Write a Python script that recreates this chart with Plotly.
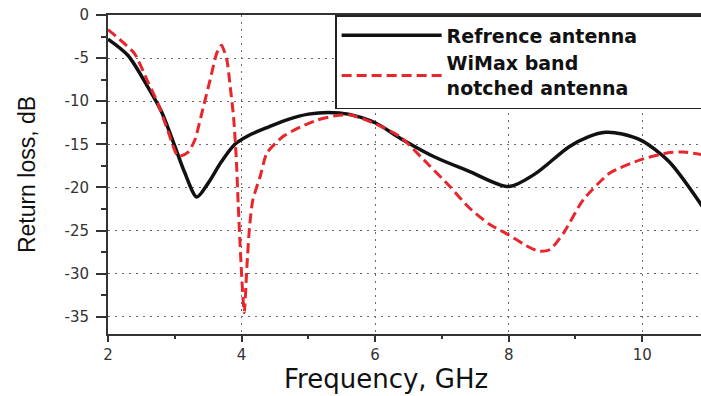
import plotly.graph_objects as go

# Reference antenna
freq_ref = [2.0, 2.3, 2.6, 2.8, 3.0, 3.15, 3.33, 3.5, 3.7, 3.9, 4.1, 4.4, 4.7, 5.0,
            5.3, 5.6, 6.0, 6.4, 6.9, 7.4, 8.0, 8.4, 8.9, 9.2, 9.45, 9.7, 10.0, 10.4, 10.9]
rl_ref = [-2.8, -4.7, -8.4, -11.2, -15.2, -18.3, -21.1, -19.5, -17.0, -15.0, -14.0, -13.0,
          -12.1, -11.5, -11.3, -11.5, -12.5, -14.4, -16.5, -18.1, -19.9, -18.4, -15.3,
          -14.1, -13.6, -13.8, -14.6, -17.0, -22.2]

# WiMax band notched antenna
freq_notch = [2.0, 2.2, 2.4, 2.6, 2.75, 2.9, 3.05, 3.2, 3.3, 3.43, 3.53, 3.63, 3.7, 3.78,
              3.83, 3.88, 3.92, 3.95, 4.0, 4.04, 4.08, 4.12, 4.17, 4.28, 4.38, 4.62, 4.88,
              5.13, 5.4, 5.63, 6.0, 6.37, 6.78, 7.12, 7.4, 7.7, 8.0, 8.25, 8.45, 8.62, 8.82,
              9.12, 9.52, 9.97, 10.37, 10.62, 10.9]
rl_notch = [-1.7, -3.0, -4.5, -7.8, -10.3, -13.5, -16.4, -15.9, -14.5, -10.6, -7.5, -4.4,
            -3.5, -5.2, -8.3, -11.8, -16.5, -22.0, -30.0, -34.5, -29.2, -24.5, -21.4, -18.7,
            -16.0, -14.1, -13.0, -12.2, -11.7, -11.6, -12.6, -14.1, -17.2, -19.9, -22.3,
            -24.2, -25.5, -26.7, -27.4, -27.2, -25.3, -21.4, -18.3, -16.8, -16.0, -15.9, -16.2]

x_ticks = [2, 4, 6, 8, 10]
x_ticktext = ["2", "4", "6", "8", "10"]
y_ticks = [0, -5, -10, -15, -20, -25, -30, -35]
y_ticktext = ["0", "-5", "-10", "-15", "-20", "-25", "-30", "-35"]

fig = go.Figure()
fig.add_trace(go.Scatter(
    x=freq_ref, y=rl_ref, mode="lines",
    name="Refrence antenna" + "\u00a0" * 9,
    line=dict(color="#111111", width=3.5, shape="spline", smoothing=0.8),
))
fig.add_trace(go.Scatter(
    x=freq_notch, y=rl_notch, mode="lines", name="WiMax band<br>notched antenna",
    line=dict(color="#e8262b", width=3, dash="10px,5px", shape="spline", smoothing=0.6),
))

tick_font = dict(family="DejaVu Sans", size=15, color="#333333")
grid_color = "#6a6a6a"
fig.update_layout(
    width=701, height=396,
    margin=dict(l=108, r=0, t=15, b=62, autoexpand=False),
    paper_bgcolor="white", plot_bgcolor="white",
    showlegend=True,
    legend=dict(
        x=0.383, xanchor="left", y=1, yanchor="top",
        bgcolor="white", bordercolor="#222222", borderwidth=1.5,
        font=dict(family="DejaVu Sans", size=19, color="#111111", weight="bold"),
        itemwidth=100, tracegroupgap=0,
    ),
    xaxis=dict(
        range=[2, 10.88], tickmode="array", tickvals=x_ticks, ticktext=x_ticktext,
        ticks="outside", ticklen=6, tickwidth=1.5, tickcolor="#333333",
        showline=True, linecolor="#333333", linewidth=2, mirror=True,
        showgrid=True, gridcolor=grid_color, gridwidth=1, griddash="2px,5px",
        zeroline=False, tickfont=tick_font,
        minor=dict(tickmode="linear", tick0=2, dtick=1, ticks="outside", ticklen=3,
                   tickcolor="#333333", showgrid=False),
    ),
    yaxis=dict(
        range=[-37, 0], tickmode="array", tickvals=y_ticks, ticktext=y_ticktext,
        ticks="outside", ticklen=10, tickwidth=1.5, tickcolor="#333333",
        showline=True, linecolor="#333333", linewidth=2,
        showgrid=True, gridcolor=grid_color, gridwidth=1, griddash="2px,5px",
        zeroline=False, tickfont=tick_font, ticklabelstandoff=4,
        minor=dict(tickmode="linear", tick0=0, dtick=2.5, ticks="outside", ticklen=5,
                   tickcolor="#333333", showgrid=False),
        title=dict(text="Return loss, dB", font=dict(family="Liberation Sans", size=23, color="#111111"),
                   standoff=22),
    ),
    annotations=[dict(
        text="Frequency, GHz", xref="paper", yref="paper", x=0.469, y=-0.141,
        xanchor="center", yanchor="middle", showarrow=False,
        font=dict(family="DejaVu Sans", size=26, color="#111111"),
    )],
)

fig.write_html("out.html")
